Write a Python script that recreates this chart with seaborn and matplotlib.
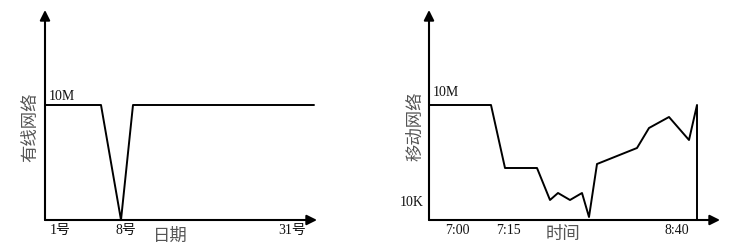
import matplotlib
matplotlib.use("Agg")
import matplotlib.pyplot as plt
import seaborn as sns
import pandas as pd

# ---- data (positions, arbitrary time units) ----
wired_x = [0, 56, 76, 88, 269]
wired_y = [115, 115, 0, 115, 115]
wired_ticks = [15, 81, 247]
wired_ticklabels = ["1号", "8号", "31号"]

mobile_x = [0, 62, 76, 108, 121, 129, 141, 153, 160, 168, 208, 220, 240, 260, 268, 268]
mobile_y = [115, 115, 52, 52, 20, 27, 20, 27, 3, 56, 72, 92, 103, 80, 115, 0]
mobile_ticks = [28, 79, 248]
mobile_ticklabels = ["7:00", "7:15", "8:40"]

level_10m = 115
level_10k = 18

sns.set_theme(style="white")
plt.rcParams["font.family"] = ["Liberation Serif", "Noto Sans CJK SC"]

W, H = 748, 247
fig = plt.figure(figsize=(W / 100, H / 100), dpi=100)
fig.patch.set_facecolor("white")


def px_axes(x0, x1, y_top, y_bot):
    return fig.add_axes([x0 / W, 1 - y_bot / H, (x1 - x0) / W, (y_bot - y_top) / H])


def style(ax, xmax):
    ax.set_xlim(0, xmax)
    ax.set_ylim(0, 210)
    for s in ax.spines.values():
        s.set_visible(False)
    ax.set_facecolor("none")
    ap = dict(arrowstyle="-|>", color="black", lw=1.5, shrinkA=0, shrinkB=0,
              mutation_scale=15)
    ax.annotate("", xy=(1, 0), xytext=(0, 0), xycoords="axes fraction",
                textcoords="axes fraction", arrowprops=ap, annotation_clip=False)
    ax.annotate("", xy=(0, 1), xytext=(0, 0), xycoords="axes fraction",
                textcoords="axes fraction", arrowprops=ap, annotation_clip=False)
    ax.set_yticks([])
    ax.tick_params(axis="x", length=0, pad=3, labelsize=10, labelcolor="#111111")
    ax.set_xlabel("")
    ax.set_ylabel("")


# ---- left: wired network ----
ax1 = px_axes(45, 317, 10, 220)
df1 = pd.DataFrame({"x": wired_x, "y": wired_y})
sns.lineplot(data=df1, x="x", y="y", ax=ax1, color="black", lw=1.4,
             sort=False, estimator=None)
style(ax1, 272)
ax1.set_xticks(wired_ticks)
ax1.set_xticklabels(wired_ticklabels)
ax1.text(4, level_10m + 9, "10M", fontsize=10, ha="left", va="center", color="#111111")

# ---- right: mobile network ----
ax2 = px_axes(429, 720, 10, 220)
df2 = pd.DataFrame({"x": mobile_x, "y": mobile_y})
sns.lineplot(data=df2, x="x", y="y", ax=ax2, color="black", lw=1.4,
             sort=False, estimator=None)
style(ax2, 291)
ax2.set_xticks(mobile_ticks)
ax2.set_xticklabels(mobile_ticklabels)
ax2.text(4, level_10m + 12, "10M", fontsize=10, ha="left", va="center", color="#111111")
ax2.text(-5, level_10k, "10K", fontsize=10, ha="right", va="center", color="#111111")

# ---- axis titles ----
lab = dict(fontsize=12.5, color="#555555", ha="center", va="center")
fig.text(170 / W, 1 - 237 / H, "日期", **lab)
fig.text(563 / W, 1 - 235 / H, "时间", **lab)
fig.text(31 / W, 1 - 127 / H, "有线网络", rotation=90, **lab)
fig.text(416 / W, 1 - 126 / H, "移动网络", rotation=90, **lab)

fig.savefig("out.png", dpi=100, facecolor="white")
